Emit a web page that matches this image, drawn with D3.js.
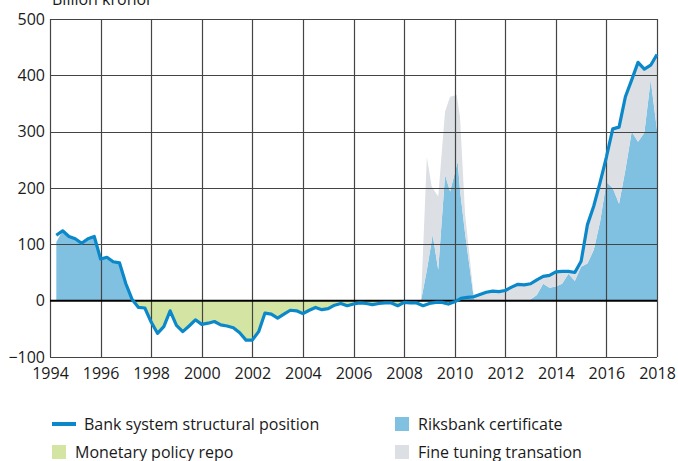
<!DOCTYPE html>
<html>
<head>
<meta charset="utf-8">
<script src="https://cdn.jsdelivr.net/npm/d3@7"></script>
<style>
  html, body { margin: 0; padding: 0; background: #ffffff; }
  svg { display: block; }
  text { font-family: "Open Sans", "Liberation Sans", sans-serif; fill: #1a1a1a; }
</style>
</head>
<body>
<svg id="chart" width="678" height="461"></svg>
<script>
// ---------- DATA ----------
const yAxisTitle = "Billion kronor";
const xTicks = [1994, 1996, 1998, 2000, 2002, 2004, 2006, 2008, 2010, 2012, 2014, 2016, 2018];
const yTicks = [-100, 0, 100, 200, 300, 400, 500];

// Bank system structural position, quarterly from 1994 Q2 to 2018 Q1 (decimal years)
const lineStart = 1994.25;
const lineStep = 0.25;
const structuralPosition = [
  116, 124, 114, 110, 102, 110, 114, 74, 77, 69, 67, 30,
  2, -12, -13, -38, -58, -46, -18, -44, -55, -45, -34, -42,
  -40, -37, -43, -45, -48, -57, -70, -70, -55, -22, -24, -31,
  -24, -17, -18, -23, -17, -12, -16, -14, -8, -5, -9, -6,
  -4, -5, -7, -5, -4, -4, -9, -3, -4, -4, -9, -5,
  -3, -3, -6, -2, 4, 6, 7, 11, 15, 17, 16, 18,
  24, 29, 28, 30, 37, 43, 45, 51, 52, 52, 50, 70,
  135, 168, 210, 255, 305, 308, 362, 392, 423, 411, 418, 437
];

// Area series (decimal years of observation)
const areaYears = [
  1994.25, 1994.5, 1994.75, 1995.0, 1995.25, 1995.5, 1995.75, 1996.0, 1996.25, 1996.5, 1996.75, 1997.0,
  1997.25, 1997.5, 1997.75, 1998.0, 1998.25, 1998.5, 1998.75, 1999.0, 1999.25, 1999.5, 1999.75, 2000.0,
  2000.25, 2000.5, 2000.75, 2001.0, 2001.25, 2001.5, 2001.75, 2002.0, 2002.25, 2002.5, 2002.75, 2003.0,
  2003.25, 2003.5, 2003.75, 2004.0, 2004.25, 2004.5, 2004.75, 2005.0, 2005.25, 2005.5, 2005.75, 2006.0,
  2006.25, 2006.5, 2006.75, 2007.0, 2007.25, 2007.5, 2007.75, 2008.0, 2008.25, 2008.5,
  2008.67, 2008.9, 2009.09, 2009.13, 2009.35, 2009.62, 2009.82, 2010.08, 2010.12, 2010.21, 2010.41, 2010.48, 2010.74, 2010.8,
  2011.0, 2011.25, 2011.5, 2011.75, 2012.0, 2012.25, 2012.5, 2012.75, 2013.0, 2013.25, 2013.5, 2013.75,
  2014.0, 2014.25, 2014.5, 2014.75, 2015.0, 2015.25, 2015.5, 2015.75, 2016.0, 2016.25, 2016.5, 2016.75,
  2017.0, 2017.25, 2017.5, 2017.75, 2018.0
];
const riksbankCertificate = [
  104, 124, 114, 110, 102, 110, 114, 74, 77, 69, 67, 30,
  2, 0, 0, 0, 0, 0, 0, 0, 0, 0, 0, 0,
  0, 0, 0, 0, 0, 0, 0, 0, 0, 0, 0, 0,
  0, 0, 0, 0, 0, 0, 0, 0, 0, 0, 0, 0,
  0, 0, 0, 0, 0, 0, 0, 0, 0, 0,
  0, 54, 106, 117, 55, 223, 194, 240, 247, 197, 120, 96, 10, 0,
  0, 0, 0, 0, 0, 0, 0, 0, 2, 10, 30, 23,
  25, 30, 48, 35, 60, 66, 90, 140, 210, 200, 172, 232,
  300, 282, 298, 392, 303
];
const fineTuning = [
  0, 0, 0, 0, 0, 0, 0, 0, 0, 0, 0, 0,
  0, 0, 0, 0, 0, 0, 0, 0, 0, 0, 0, 0,
  0, 0, 0, 0, 0, 0, 0, 0, 0, 0, 0, 0,
  0, 0, 0, 0, 0, 0, 0, 0, 0, 0, 0, 0,
  0, 0, 0, 0, 0, 0, 0, 0, 0, 0,
  0, 201, 97, 83, 130, 113, 168, 125, 106, 130, 35, 29, 4, 7,
  11, 15, 17, 16, 18, 24, 29, 28, 28, 27, 13, 22,
  26, 22, 4, 15, 10, 69, 78, 70, 45, 105, 136, 130,
  92, 141, 113, 26, 134
];
const monetaryPolicyRepo = [
  0, 0, 0, 0, 0, 0, 0, 0, 0, 0, 0, 0,
  0, -12, -13, -38, -58, -46, -18, -44, -55, -45, -34, -42,
  -40, -37, -43, -45, -48, -57, -70, -70, -55, -22, -24, -31,
  -24, -17, -18, -23, -17, -12, -16, -14, -8, -5, -9, -6,
  -4, -5, -7, -5, -4, -4, -9, -3, -4, -4,
  0, 0, 0, 0, 0, 0, 0, 0, 0, 0, 0, 0, 0, 0,
  0, 0, 0, 0, 0, 0, 0, 0, 0, 0, 0, 0,
  0, 0, 0, 0, 0, 0, 0, 0, 0, 0, 0, 0,
  0, 0, 0, 0, 0
];

const seriesNames = {
  line: "Bank system structural position",
  certificate: "Riksbank certificate",
  repo: "Monetary policy repo",
  fine: "Fine tuning transation"
};
const colors = {
  line: "#0b88c9",
  certificate: "#80c1e2",
  repo: "#d4e5a3",
  fine: "#dcdfe3",
  grid: "#444444",
  zero: "#000000"
};

// ---------- CHART ----------
const svg = d3.select("#chart");
const margin = { left: 50, right: 21, top: 19, bottom: 104 };
const W = 678, H = 461;
const FONT = '"Open Sans", "Liberation Sans", sans-serif';

const x = d3.scaleLinear().domain([1994, 2018]).range([margin.left, W - margin.right]);
const y = d3.scaleLinear().domain([-100, 500]).range([H - margin.bottom, margin.top]);

// stacked areas
const table = areaYears.map((yr, i) => ({
  year: yr,
  certificate: riksbankCertificate[i],
  fine: fineTuning[i],
  repo: monetaryPolicyRepo[i]
}));
const stack = d3.stack()
  .keys(["certificate", "fine", "repo"])
  .offset(d3.stackOffsetDiverging);
const stacked = stack(table);

const area = d3.area()
  .x(d => x(d.data.year))
  .y0(d => y(d[0]))
  .y1(d => y(d[1]));

svg.append("g").selectAll("path")
  .data(stacked)
  .join("path")
  .attr("d", area)
  .attr("fill", d => colors[d.key])
  .attr("stroke", "none");

// grid
const gridG = svg.append("g");
gridG.selectAll("line.v")
  .data(xTicks)
  .join("line")
  .attr("class", "v")
  .attr("x1", d => Math.round(x(d)) + 0.5)
  .attr("x2", d => Math.round(x(d)) + 0.5)
  .attr("y1", y(500))
  .attr("y2", y(-100))
  .attr("stroke", colors.grid)
  .attr("stroke-width", 1.2);
gridG.selectAll("line.h")
  .data(yTicks.filter(v => v !== 0))
  .join("line")
  .attr("class", "h")
  .attr("x1", x(1994))
  .attr("x2", x(2018))
  .attr("y1", d => Math.round(y(d)) + 0.5)
  .attr("y2", d => Math.round(y(d)) + 0.5)
  .attr("stroke", colors.grid)
  .attr("stroke-width", 1.2);
gridG.append("line")
  .attr("x1", x(1994)).attr("x2", x(2018))
  .attr("y1", y(0)).attr("y2", y(0))
  .attr("stroke", colors.zero)
  .attr("stroke-width", 2);

// line
const lineData = structuralPosition.map((v, i) => ({ year: lineStart + i * lineStep, value: v }));
const line = d3.line().x(d => x(d.year)).y(d => y(d.value));
svg.append("path")
  .datum(lineData)
  .attr("d", line)
  .attr("fill", "none")
  .attr("stroke", colors.line)
  .attr("stroke-width", 3.2)
  .attr("stroke-linejoin", "round");

// axes (labels only)
const yAxis = d3.axisLeft(y).tickValues(yTicks).tickSize(0).tickPadding(5).tickFormat(d3.format("d"));
svg.append("g")
  .attr("transform", `translate(${x(1994)},0)`)
  .call(yAxis)
  .call(g => g.select(".domain").remove())
  .call(g => g.selectAll("text")
    .style("font-family", FONT)
    .style("font-size", "16px").attr("fill", "#1a1a1a"));

const xAxis = d3.axisBottom(x).tickValues(xTicks).tickSize(0).tickPadding(11).tickFormat(d3.format("d"));
svg.append("g")
  .attr("transform", `translate(0,${y(-100)})`)
  .call(xAxis)
  .call(g => g.select(".domain").remove())
  .call(g => g.selectAll("text")
    .style("font-family", FONT)
    .style("font-size", "16px").attr("fill", "#1a1a1a"));

// y axis title (partially cut off at top, as in the reference)
svg.append("text")
  .attr("x", 52)
  .attr("y", 5)
  .style("font-size", "16px")
  .text(yAxisTitle);

// legend
const legendItems = [
  { key: "line", label: seriesNames.line, type: "line", lx: 52, ly: 424, tx: 84 },
  { key: "certificate", label: seriesNames.certificate, type: "rect", lx: 395, ly: 424, tx: 418 },
  { key: "repo", label: seriesNames.repo, type: "rect", lx: 52, ly: 452, tx: 75 },
  { key: "fine", label: seriesNames.fine, type: "rect", lx: 395, ly: 452, tx: 418 }
];
const lg = svg.append("g");
legendItems.forEach(it => {
  if (it.type === "line") {
    lg.append("line")
      .attr("x1", it.lx).attr("x2", it.lx + 24)
      .attr("y1", it.ly).attr("y2", it.ly)
      .attr("stroke", colors[it.key]).attr("stroke-width", 4);
  } else {
    lg.append("rect")
      .attr("x", it.lx).attr("y", it.ly - 7)
      .attr("width", 14).attr("height", 14)
      .attr("fill", colors[it.key]);
  }
  lg.append("text")
    .attr("x", it.tx).attr("y", it.ly)
    .attr("dy", "0.35em")
    .style("font-size", "16px")
    .text(it.label);
});
</script>
</body>
</html>
